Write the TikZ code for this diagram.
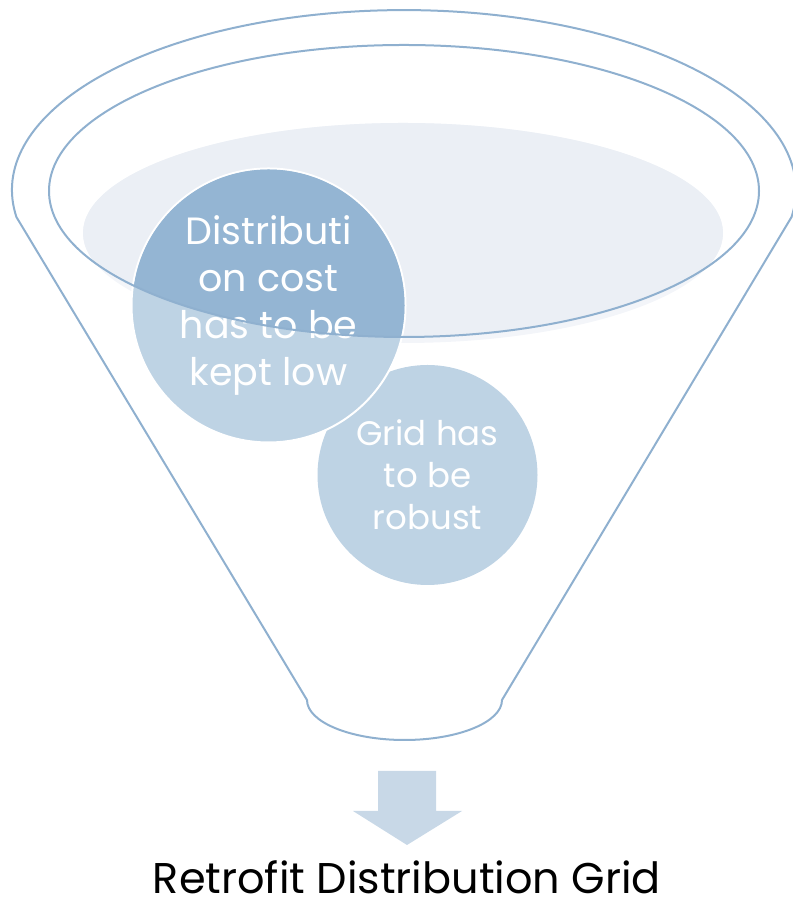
\documentclass[tikz,border=0pt]{standalone}
\usepackage{fontspec}
\setmainfont{Poppins}
\usepackage{tikz}
\definecolor{rim color}{HTML}{8FB0CF}
\definecolor{liquid color}{HTML}{EBEFF5}
\definecolor{liquid edge}{HTML}{F3F5F9}
\definecolor{bubble light}{HTML}{BED3E4}
\definecolor{bubble dark}{HTML}{94B5D3}
\definecolor{arrow color}{HTML}{C8D8E7}
\tikzset{rim/.style={draw=rim color, line width=2pt}}
\tikzset{bubble/.style={fill=bubble light}}
\tikzset{bubble text/.style={text=white, align=center, font=\fontsize{38}{47}\selectfont}}

\begin{document}
\begin{tikzpicture}[x=1pt, y=1pt]
    \useasboundingbox (0,0) rectangle (792,909);
    % liquid surface, a little darker inside the mouth
    \fill[liquid edge] (403,676) ellipse [x radius=320, y radius=110];
    \begin{scope}
        \clip (404,718) ellipse [x radius=355, y radius=146];
        \fill[liquid color] (403,676) ellipse [x radius=320, y radius=110];
    \end{scope}
    \fill[bubble] (427.5,434) circle (110);
    \draw[bubble, draw=white, line width=2pt] (268.5,603.5) circle (137);
    \begin{scope}
        \clip (404,718) ellipse [x radius=355, y radius=146];
        \fill[bubble dark] (268.5,603.5) circle (136);
    \end{scope}
    \node[bubble text] (cost) at (268.5,603.5) {Distributi\\on cost\\has to be\\kept low};
    \node[bubble text, font=\fontsize{34}{42}\selectfont] (robust) at (427.5,434) {Grid has\\to be\\robust};
    % funnel
    \draw[rim] (404,718) ellipse [x radius=355, y radius=146];
    \draw[rim] (16.4,692) arc[start angle=188.6, end angle=-8.6, x radius=392, y radius=180]
        -- (502,209) arc[start angle=0, end angle=-180, x radius=97.5, y radius=40] -- cycle;
    \fill[arrow color] (378,138) -- (436,138) -- (436,98) -- (462,98) -- (407,64)
        -- (353,98) -- (378,98) -- cycle;
    \node[anchor=base, inner sep=0pt, font=\fontsize{43}{52}\selectfont] (title) at (407,15) {Retrofit Distribution Grid};
\end{tikzpicture}
\end{document}
